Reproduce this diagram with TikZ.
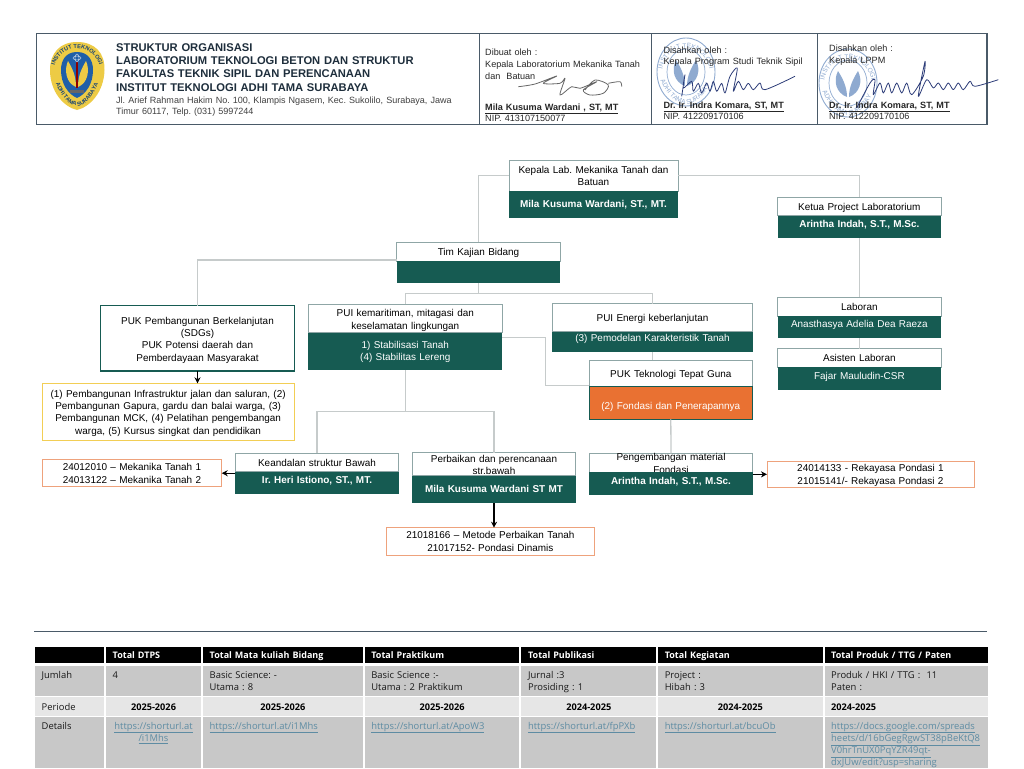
\documentclass[tikz,border=0pt]{standalone}
\usepackage{fontspec}
\setmainfont{Liberation Sans}
\newfontfamily\tablefont{Open Sans}
\usetikzlibrary{arrows.meta,positioning,decorations.text}

\definecolor{tealfill}{HTML}{165B52}
\definecolor{headline}{HTML}{8FA6A6}
\definecolor{linkgray}{HTML}{C6CBCB}
\definecolor{orangefill}{HTML}{E97132}
\definecolor{orangeline}{HTML}{EEA27C}
\definecolor{yellowline}{HTML}{F2CE55}
\definecolor{frameline}{HTML}{4A5A68}
\definecolor{titletext}{HTML}{1E2E3C}
\definecolor{celldark}{HTML}{C8C8C8}
\definecolor{celllight}{HTML}{E6E6E6}
\definecolor{urlblue}{HTML}{5E8CA3}
\definecolor{stampblue}{HTML}{8FAAD0}
\definecolor{logoblue}{HTML}{1F5FA8}
\definecolor{logoyellow}{HTML}{EDCB45}
\definecolor{inkblue}{HTML}{2C3C78}

\begin{document}
\frenchspacing
\begin{tikzpicture}[
  x=1pt, y=-1pt,
  basebox/.style={rectangle, inner sep=0pt, outer sep=0pt, align=center, font=\fontsize{9.95}{12.2}\selectfont},
  size/.style 2 args={text height=#1pt, text depth=#2pt},
  headbox/.style={basebox, draw=headline, line width=1pt, fill=white, text=black},
  bodybox/.style={basebox, fill=tealfill, text=white},
  codebox/.style={basebox, draw=orangeline, line width=1pt, fill=white},
  link/.style={draw=linkgray, line width=1.3pt},
  arrow/.style={-{Stealth[length=6pt,width=6pt]}, line width=1.4pt, black},
  framecell/.style={rectangle, draw=frameline, line width=1.2pt, outer sep=0pt, minimum height=91pt},
  signtext/.style={anchor=base west, inner sep=0pt, text width=160pt, align=left, font=\fontsize{9.1}{11.6}\selectfont, text=black!85},
  sign/.style={draw=inkblue, line width=0.8pt, line join=round},
  tabcell/.style={rectangle, inner ysep=0pt, inner xsep=6.7pt, outer sep=0pt, align=left, fill=celldark, text=black!90,
    font=\tablefont\fontsize{9.4}{12.2}\selectfont},
  headrow/.style={tabcell, fill=black, text=white, font=\tablefont\bfseries\fontsize{9}{12.2}\selectfont, size={11.8}{4.8}},
  jumlahrow/.style={tabcell, size={12}{17.4}},
  perioderow/.style={tabcell, fill=celllight, size={12.7}{5.7}, font=\tablefont\bfseries\fontsize{9.2}{12.2}\selectfont, text=black, align=center},
  detailrow/.style={tabcell, size={11.7}{39}, text=urlblue},
  stamp/.pic={
    \draw[stampblue, line width=0.9pt] (0,0) ellipse (29 and 34);
    \draw[stampblue, line width=0.7pt] (0,0) ellipse (19 and 23);
    \fill[stampblue] (-1,14) .. controls (-12,10) and (-15,-2) .. (-10,-12) .. controls (-5,-4) and (-1,4) .. (-1,14);
    \fill[stampblue] (1,14) .. controls (12,10) and (15,-2) .. (10,-12) .. controls (5,-4) and (1,4) .. (1,14);
    \path[decorate, decoration={text along path, text={|\fontsize{6.5}{6.5}\selectfont\color{stampblue}|INSTITUT TEKNOLOGI}, text align=center}]
      (-24,12) .. controls (-30,-36) and (30,-36) .. (24,12);
    \path[decorate, decoration={text along path, text={|\fontsize{6.5}{6.5}\selectfont\color{stampblue}|ADHI TAMA SURABAYA}, text align=center}]
      (-24,12) .. controls (-16,28) and (-6,32) .. (0,32) .. controls (6,32) and (16,28) .. (24,12);
  }
]
\useasboundingbox (0,0) rectangle (1024,768);

% header frame
\node[framecell, minimum width=442.8pt, anchor=north west] (framemain) at (36.5,33.4) {};
\node[framecell, minimum width=172.3pt, right=0pt of framemain] (framemade) {};
\node[framecell, minimum width=166.2pt, right=0pt of framemade] (frameprodi) {};
\node[framecell, minimum width=169.2pt, right=0pt of frameprodi] (framelppm) {};

% logo
\fill[logoyellow] (77,42) .. controls (95,42) and (105,53) .. (104.5,70) .. controls (104,92) and (90,107) .. (77,110) .. controls (64,107) and (50,92) .. (50,70) .. controls (50,53) and (60,42) .. (77,42);
\fill[logoblue] (77,52) .. controls (88,52) and (93,60) .. (93,70) .. controls (93,84) and (86,94) .. (77,98) .. controls (68,94) and (61,84) .. (61,70) .. controls (61,60) and (66,52) .. (77,52);
\fill[logoyellow] (76,87) .. controls (66,83) and (64,70) .. (68,61) .. controls (72,68) and (76,75) .. (76,87);
\fill[logoyellow] (78,87) .. controls (88,83) and (90,70) .. (86,61) .. controls (82,68) and (78,75) .. (78,87);
\fill[red!55!black] (76.3,62) rectangle (77.7,88);
\fill[black!60] (70,90) rectangle (84,93);
\draw[white!70!logoblue, line width=0.5pt] (77,58) ellipse (4 and 2) (77,58) ellipse (2 and 4);
\path[decorate, decoration={text along path, text={|\fontsize{5.6}{5.6}\bfseries\selectfont\color{logoblue!70!black}|INSTITUT TEKNOLOGI}, text align=center}]
  (54,80) .. controls (48,38) and (106,38) .. (100,80);
\path[decorate, decoration={text along path, text={|\fontsize{5.6}{5.6}\bfseries\selectfont\color{logoblue!70!black}|ADHI TAMA SURABAYA}, text align=center}]
  (56,84) .. controls (62,98) and (70,106) .. (77,106) .. controls (84,106) and (92,98) .. (98,84);

% header texts
\node[anchor=base west, inner sep=0pt, text width=340pt, align=left, text=titletext, font=\bfseries\fontsize{11.2}{13.4}\selectfont] (title) at (116,51.1)
  {STRUKTUR ORGANISASI\\LABORATORIUM TEKNOLOGI BETON DAN STRUKTUR\\FAKULTAS TEKNIK SIPIL DAN PERENCANAAN\\INSTITUT TEKNOLOGI ADHI TAMA SURABAYA};
\node[anchor=base west, inner sep=0pt, text width=350pt, align=left, text=black!75, font=\fontsize{9.05}{11}\selectfont] (address) at (116,103)
  {Jl. Arief Rahman Hakim No. 100, Klampis Ngasem, Kec. Sukolilo, Surabaya, Jawa\\Timur 60117, Telp. (031) 5997244};

\pic at (686,72) {stamp};
\pic at (848,83) {stamp};

\node[signtext] (madeby) at (485,56) {Dibuat oleh :\\Kepala Laboratorium Mekanika Tanah\\dan~ Batuan};
\node[signtext] (madename) at (485,110) {\underline{\textbf{Mila Kusuma Wardani , ST, MT}}\\NIP. 413107150077};
\node[signtext] (prodiby) at (663.3,53) {Disahkan oleh :\\Kepala Program Studi Teknik Sipil};
\node[signtext] (prodiname) at (663.3,108) {\underline{\textbf{Dr. Ir. Indra Komara, ST, MT}}\\NIP. 412209170106};
\node[signtext] (lppmby) at (829,52) {Disahkan oleh :\\Kepala LPPM};
\node[signtext] (lppmname) at (829,108) {\underline{\textbf{Dr. Ir. Indra Komara, ST, MT}}\\NIP. 412209170106};

% signatures
\draw[sign, draw=black!60] plot[smooth] coordinates {(518.3,86.7) (535,84) (556.7,76) (543.3,83.3) (560,83.3) (565,78.3) (560,95) (571.7,86.7) (580,88.3) (596.7,81.7) (583.3,90) (590,95) (603.3,93.3) (608.3,85) (595,80) (585,90)};
\draw[sign, draw=black!60] plot[smooth] coordinates {(608.3,83.3) (620,81.7) (621.7,86.7)};
\draw[sign] plot[smooth] coordinates {(681.7,96.3) (685,74.7) (683.3,88) (691.7,81.3) (693.3,91.3) (698.3,83.3) (701.7,93) (706.7,83) (710,91.3) (713.3,81.3) (716.7,91.3) (721.7,83.3) (725,93) (730,76.3) (737.3,68) (733.3,91.3) (738.3,81.3) (743.3,89.7) (748.3,83.3) (753.3,89.7) (760,83) (765,89.7) (795,76.3)};
\draw[sign] plot[smooth] coordinates {(856.7,108) (870,83) (875,79.7) (873.3,94.7) (880,83) (883.3,93) (888.3,83) (891.7,93) (896.7,83) (901.7,93) (906.7,83) (911.7,94.7) (923.3,76.3) (925,61.3) (918.3,96.3) (926.7,79.7) (933.3,88) (938.3,83) (943.3,89.7) (948.3,83) (953.3,89.7) (958.3,83) (963.3,89.7) (970,81.3) (975,86.3) (998.3,79.7)};

% organisation boxes
\node[headbox, text width=169pt, size={13.2}{17.5}, anchor=north west] (kepala) at (509,160.3) {Kepala Lab. Mekanika Tanah dan\\Batuan};
\node[bodybox, text width=169pt, size={16.5}{10.2}, below=0pt of kepala] (kepalaname) {\textbf{Mila Kusuma Wardani, ST., MT.}};

\node[headbox, text width=163.3pt, size={13.2}{5.2}, anchor=north west] (ketua) at (777.7,197.3) {Ketua Project Laboratorium};
\node[bodybox, text width=163.3pt, size={11.8}{10.8}, below=0pt of ketua] (ketuaname) {\textbf{Arintha Indah, S.T., M.Sc.}};

\node[headbox, text width=163.6pt, size={13.2}{5.8}, anchor=north west] (tim) at (396.7,242.3) {Tim Kajian Bidang};
\node[bodybox, text width=163.6pt, size={22}{0}, below=0pt of tim] (timname) {};

\node[headbox, draw=tealfill, line width=1.5pt, text width=193.6pt, size={18.8}{46.5}, anchor=north west] (pukdev) at (100.7,305.7)
  {PUK Pembangunan Berkelanjutan\\(SDGs)\\PUK Potensi daerah dan\\Pemberdayaan Masyarakat};
\node[codebox, draw=yellowline, text width=251.7pt, size={14.2}{43.2}, anchor=north west] (pukdevlist) at (42.3,383.3)
  {(1) Pembangunan Infrastruktur jalan dan saluran, (2)\\Pembangunan Gapura, gardu dan balai warga, (3)\\Pembangunan MCK, (4) Pelatihan pengembangan\\warga, (5) Kursus singkat dan pendidikan};

\node[headbox, text width=194pt, size={12.5}{15.9}, anchor=north west] (puimar) at (308.3,304.3) {PUI kemaritiman, mitagasi dan\\keselamatan lingkungan};
\node[bodybox, text width=194pt, size={15.5}{22.1}, below=0pt of puimar] (puimarbody) {1) Stabilisasi Tanah\\(4) Stabilitas Lereng};

\node[headbox, text width=200.4pt, size={18.1}{9.9}, anchor=north west] (puien) at (552.3,303.7) {PUI Energi keberlanjutan};
\node[bodybox, text width=200.4pt, size={10.1}{10.2}, below=0pt of puien] (puienbody) {(3) Pemodelan Karakteristik Tanah};

\node[headbox, text width=163pt, size={16.9}{8.8}, anchor=north west] (puktek) at (589.3,360.3) {PUK Teknologi Tepat Guna};
\node[bodybox, draw=tealfill, line width=1pt, fill=orangefill, text width=163pt, size={23.2}{10.1}, below=0pt of puktek] (puktekbody) {(2) Fondasi dan Penerapannya};

\node[headbox, text width=163.4pt, size={13.2}{5.5}, anchor=north west] (keandalan) at (235.3,453) {Keandalan struktur Bawah};
\node[bodybox, text width=163.4pt, size={11.8}{10.2}, below=0pt of keandalan] (keandalanname) {\textbf{Ir. Heri Istiono, ST., MT.}};

\node[headbox, text width=163.4pt, size={9.5}{13.5}, anchor=north west] (perbaikan) at (412.3,452.7) {Perbaikan dan perencanaan\\str.bawah};
\node[bodybox, text width=163.4pt, size={16.8}{10.5}, below=0pt of perbaikan] (perbaikanname) {\textbf{Mila Kusuma Wardani ST MT}};

\node[headbox, text width=163.4pt, size={7.1}{11.5}, anchor=north west] (material) at (589.3,453.7) {Pengembangan material\\Fondasi};
\node[bodybox, text width=163.4pt, size={11.9}{10.5}, below=0pt of material] (materialname) {\textbf{Arintha Indah, S.T., M.Sc.}};

\node[headbox, text width=163.3pt, size={13.2}{5.5}, anchor=north west] (laboran) at (777.7,297.3) {Laboran};
\node[bodybox, text width=163.3pt, size={11.8}{10.5}, below=0pt of laboran] (laboranname) {Anasthasya Adelia Dea Raeza};
\node[headbox, text width=163.3pt, size={13.1}{5.5}, anchor=north west] (asisten) at (777.7,348.7) {Asisten Laboran};
\node[bodybox, text width=163.3pt, size={11.9}{10.5}, below=0pt of asisten] (asistenname) {Fajar Mauludin-CSR};

\node[codebox, text width=179.4pt, size={11.1}{15.9}, anchor=north west] (mkleft) at (42.3,459.7) {24012010 -- Mekanika Tanah 1\\24013122 -- Mekanika Tanah 2};
\node[codebox, text width=207.3pt, size={11.1}{16.2}, anchor=north west] (mkbottom) at (386.7,527.7) {21018166 -- Metode Perbaikan Tanah\\21017152- Pondasi Dinamis};
\node[codebox, text width=207pt, size={10.8}{15.9}, anchor=north west] (mkright) at (767,461) {24014133 - Rekayasa Pondasi 1\\21015141/- Rekayasa Pondasi 2};

% connectors
\coordinate (timfork) at (478.5,293.5);
\coordinate (puibend) at (545.5,337.7);
\coordinate (puifork) at (405.3,411.7);
\draw[link] (kepala.west) -| (tim.north);
\draw[link] (kepala.east) -| (ketua.north);
\draw[link] (ketuaname.south) -- (laboran.north);
\draw[link] (laboranname.south) -- (asisten.north);
\draw[link] ([yshift=1.4pt]timname.north west) -| (pukdev.north);
\draw[link] (timname.south) -- (timfork);
\draw[link] (puimar.north) |- (timfork) -| (puien.north);
\draw[link] (puienbody.south) -- (puienbody.south |- puktek.north);
\draw[link] (puibend -| puimarbody.east) -- (puibend) |- ([yshift=0.7pt]puktekbody.north west);
\draw[link] (puimarbody.south) -- (puifork);
\draw[link] (keandalan.north) |- (puifork) -| (perbaikan.north);
\draw[link] (puktekbody.south) -- (material.north);

\draw[arrow] (pukdev.south) -- (pukdev.south |- pukdevlist.north);
\draw[arrow] (keandalanname.west |- mkleft.east) -- (mkleft.east);
\draw[arrow] (perbaikanname.south) -- (perbaikanname.south |- mkbottom.north);
\draw[arrow] (materialname.east |- mkright.west) -- (mkright.west);

% table
\node[draw=none, fill=frameline, minimum width=953pt, minimum height=1.3pt, inner sep=0pt, anchor=west] (tablerule) at (34,631.7) {};

\node[headrow, text width=55.6pt, anchor=north west] (h0) at (35,646.7) {};
\node[headrow, text width=81.6pt, right=2pt of h0] (h1) {Total DTPS};
\node[headrow, text width=146.3pt, right=2pt of h1] (h2) {Total Mata kuliah Bidang};
\node[headrow, text width=141.3pt, right=2pt of h2] (h3) {Total Praktikum};
\node[headrow, text width=121.3pt, right=2pt of h3] (h4) {Total Publikasi};
\node[headrow, text width=151pt, right=2pt of h4] (h5) {Total Kegiatan};
\node[headrow, text width=150pt, right=2pt of h5] (h6) {Total Produk / TTG / Paten};

\node[jumlahrow, text width=55.6pt, below=3pt of h0] (j0) {Jumlah};
\node[jumlahrow, text width=81.6pt, below=3pt of h1] (j1) {4};
\node[jumlahrow, text width=146.3pt, below=3pt of h2] (j2) {Basic Science: -\\Utama : 8};
\node[jumlahrow, text width=141.3pt, below=3pt of h3] (j3) {Basic Science :-\\Utama : 2 Praktikum};
\node[jumlahrow, text width=121.3pt, below=3pt of h4] (j4) {Jurnal :3\\Prosiding : 1};
\node[jumlahrow, text width=151pt, below=3pt of h5] (j5) {Project :\\Hibah : 3};
\node[jumlahrow, text width=150pt, below=3pt of h6] (j6) {Produk / HKI / TTG :~ 11\\Paten :};

\node[perioderow, text width=55.6pt, below=1.6pt of j0, align=left, font=\tablefont\fontsize{9.4}{12.2}\selectfont, text=black!90] (p0) {Periode};
\node[perioderow, text width=81.6pt, below=1.6pt of j1] (p1) {2025-2026};
\node[perioderow, text width=146.3pt, below=1.6pt of j2] (p2) {2025-2026};
\node[perioderow, text width=141.3pt, below=1.6pt of j3] (p3) {2025-2026};
\node[perioderow, text width=121.3pt, below=1.6pt of j4] (p4) {2024-2025};
\node[perioderow, text width=151pt, below=1.6pt of j5] (p5) {2024-2025};
\node[perioderow, text width=150pt, below=1.6pt of j6, align=left] (p6) {2024-2025};

\node[detailrow, text width=55.6pt, below=1.6pt of p0, text=black!90] (d0) {Details};
\node[detailrow, text width=81.6pt, below=1.6pt of p1, align=center] (d1) {\underline{https://shorturl.at}\\\underline{/i1Mhs}};
\node[detailrow, text width=146.3pt, below=1.6pt of p2] (d2) {\underline{https://shorturl.at/i1Mhs}};
\node[detailrow, text width=141.3pt, below=1.6pt of p3] (d3) {\underline{https://shorturl.at/ApoW3}};
\node[detailrow, text width=121.3pt, below=1.6pt of p4] (d4) {\underline{https://shorturl.at/fpPXb}};
\node[detailrow, text width=151pt, below=1.6pt of p5] (d5) {\underline{https://shorturl.at/bcuOb}};
\node[detailrow, text width=150pt, below=1.6pt of p6] (d6) {\underline{https://docs.google.com/spreads}\\\underline{heets/d/16bGegRgwST38pBeKtQ8}\\\underline{V0hrTnUX0PqYZR49qt-}\\\underline{dxJUw/edit?usp=sharing}};

\end{tikzpicture}
\end{document}
